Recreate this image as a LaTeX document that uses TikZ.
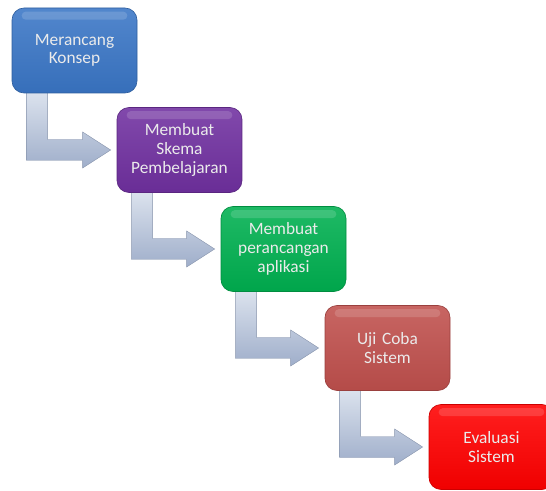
\documentclass[tikz,border=0pt]{standalone}
\usepackage{fontspec}
\setmainfont{Carlito}
\usetikzlibrary{calc,backgrounds}

\definecolor{konsepblue}{HTML}{3A76C6}
\definecolor{skemapurple}{HTML}{7030A0}
\definecolor{aplikasigreen}{HTML}{00B050}
\definecolor{ujired}{HTML}{C0504D}
\definecolor{evalred}{HTML}{FF0000}
\definecolor{arrowlight}{HTML}{DCE3EE}
\definecolor{arrowdark}{HTML}{9FAECA}

\tikzset{
  stepbox/.style={draw=#1!80!black, line width=0.5pt, rounded corners=9pt,
    top color=#1!88!white, bottom color=#1!94!black,
    minimum width=93.75pt, minimum height=63.75pt, text width=88pt, inner sep=0pt,
    align=center, text=white!92!black, font=\fontsize{13}{14}\selectfont},
  bentarrow/.style={top color=arrowlight, bottom color=arrowdark, draw=arrowdark!85!black, line width=0.3pt},
  gloss/.style={white, opacity=0.15, rounded corners=3pt}
}

\begin{document}
\begin{tikzpicture}[x=0.75pt,y=0.75pt,yscale=-1]
        \useasboundingbox (0,0) rectangle (546,491);
        \clip (0,0) rectangle (546,491);

        % Text Node
        \node [stepbox=konsepblue] (konsep) at (74.5,50.5) {Merancang\\Konsep};
        % Text Node
        \node [stepbox=skemapurple] (skema) at (179.5,150) {Membuat\\Skema\\Pembelajaran};
        % Text Node
        \node [stepbox=aplikasigreen] (aplikasi) at (283.5,249) {Membuat\\perancangan\\aplikasi};
        % Text Node
        \node [stepbox=ujired] (ujicoba) at (387.5,348) {Uji Coba\\Sistem};
        % Text Node
        \node [stepbox=evalred] (evaluasi) at (491.5,447) {Evaluasi\\Sistem};

        %Shape: highlight bands
        \foreach \n in {konsep,skema,aplikasi,ujicoba,evaluasi}
          \fill [gloss] ($(\n.north west)+(10,4)$) rectangle ($(\n.north east)+(-10,12)$);

        %Shape: Bent Arrows
        \begin{scope}[on background layer]
          \foreach \from/\to in {konsep/skema,skema/aplikasi,aplikasi/ujicoba,ujicoba/evaluasi}
            \draw [bentarrow] ($(\from.south west)+(15,-2)$) -- ($(\from.south west)+(36,-2)$) |- ($(\to.west)+(-34,-10.5)$) -- ($(\to.west)+(-34,-18)$) -- ($(\to.west)+(-6,0)$) -- ($(\to.west)+(-34,18)$) -- ($(\to.west)+(-34,10.5)$) -| ($(\from.south west)+(15,-2)$) -- cycle ;
        \end{scope}

\end{tikzpicture}
\end{document}
